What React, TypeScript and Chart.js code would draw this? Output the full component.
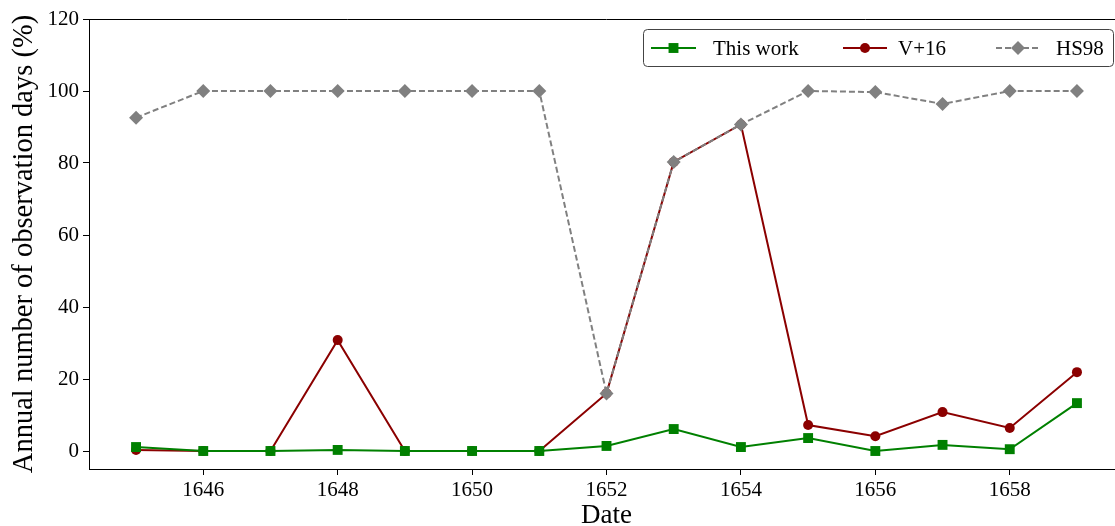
import React, { useEffect, useRef } from "react";
import { Chart, registerables } from "chart.js";

Chart.register(...registerables);

const years = [1645, 1646, 1647, 1648, 1649, 1650, 1651, 1652, 1653, 1654, 1655, 1656, 1657, 1658, 1659];
const thisWork = [1.1, 0, 0, 0.3, 0, 0, 0, 1.4, 6.1, 1.1, 3.6, 0, 1.7, 0.5, 13.3];
const v16 = [0.3, 0, 0, 30.8, 0, 0, 0, 16, 80.3, 90.7, 7.2, 4.1, 10.8, 6.4, 21.9];
const hs98 = [92.6, 100, 100, 100, 100, 100, 100, 16, 80.3, 90.7, 100, 99.7, 96.4, 100, 100];
const xTicks = [1646, 1648, 1650, 1652, 1654, 1656, 1658];
const yTicks = [0, 20, 40, 60, 80, 100, 120];
const seriesNames = ["This work", "V+16", "HS98"];

const FONT = "'Liberation Serif', 'DejaVu Serif', serif";
const W = 1131;
const H = 526;

const legendPlugin = {
  id: "customLegend",
  afterDraw(chart: any) {
    const ctx = chart.ctx;
    ctx.save();
    // top spine
    ctx.strokeStyle = "#000";
    ctx.lineWidth = 1;
    ctx.beginPath();
    ctx.moveTo(chart.chartArea.left, chart.chartArea.top + 0.5);
    ctx.lineTo(chart.chartArea.right, chart.chartArea.top + 0.5);
    ctx.stroke();
    // legend box
    const bx = 643.5, by = 29.5, bw = 470, bh = 37, r = 4;
    ctx.fillStyle = "rgba(255,255,255,0.8)";
    ctx.strokeStyle = "#444";
    ctx.lineWidth = 1;
    ctx.beginPath();
    ctx.moveTo(bx + r, by);
    ctx.lineTo(bx + bw - r, by);
    ctx.quadraticCurveTo(bx + bw, by, bx + bw, by + r);
    ctx.lineTo(bx + bw, by + bh - r);
    ctx.quadraticCurveTo(bx + bw, by + bh, bx + bw - r, by + bh);
    ctx.lineTo(bx + r, by + bh);
    ctx.quadraticCurveTo(bx, by + bh, bx, by + bh - r);
    ctx.lineTo(bx, by + r);
    ctx.quadraticCurveTo(bx, by, bx + r, by);
    ctx.closePath();
    ctx.fill();
    ctx.stroke();
    const cy = 48;
    const items = [
      { x0: 651, x1: 696, tx: 713, color: "#008000", style: "rect", radius: 7, dash: [] as number[] },
      { x0: 843, x1: 887, tx: 898, color: "#8b0000", style: "circle", radius: 5, dash: [] as number[] },
      { x0: 996, x1: 1040, tx: 1056, color: "#808080", style: "rectRot", radius: 7, dash: [6, 3] },
    ];
    items.forEach((it, i) => {
      ctx.strokeStyle = it.color;
      ctx.lineWidth = 2;
      ctx.setLineDash(it.dash);
      ctx.beginPath();
      ctx.moveTo(it.x0, cy);
      ctx.lineTo(it.x1, cy);
      ctx.stroke();
      ctx.setLineDash([]);
      ctx.fillStyle = it.color;
      const cx = (it.x0 + it.x1) / 2;
      ctx.beginPath();
      if (it.style === "rect") {
        const s = it.radius * Math.SQRT1_2;
        ctx.rect(cx - s, cy - s, 2 * s, 2 * s);
      } else if (it.style === "circle") {
        ctx.arc(cx, cy, it.radius, 0, Math.PI * 2);
      } else {
        ctx.moveTo(cx, cy - it.radius);
        ctx.lineTo(cx + it.radius, cy);
        ctx.lineTo(cx, cy + it.radius);
        ctx.lineTo(cx - it.radius, cy);
        ctx.closePath();
      }
      ctx.fill();
      ctx.fillStyle = "#000";
      ctx.font = `21px ${FONT}`;
      ctx.textBaseline = "middle";
      ctx.textAlign = "left";
      ctx.fillText(seriesNames[i], it.tx, cy + 1);
    });
    ctx.restore();
  },
};

export default function App() {
  const ref = useRef<HTMLCanvasElement | null>(null);

  useEffect(() => {
    document.body.style.margin = "0";
    document.body.style.overflow = "hidden";
    const mk = (vals: number[]) => years.map((y, i) => ({ x: y, y: vals[i] }));
    const chart = new Chart(ref.current as HTMLCanvasElement, {
      type: "line",
      data: {
        datasets: [
          {
            label: seriesNames[0],
            data: mk(thisWork),
            borderColor: "#008000",
            backgroundColor: "#008000",
            borderWidth: 2,
            pointStyle: "rect",
            pointRadius: 7,
            pointBorderWidth: 0,
            order: 1,
          },
          {
            label: seriesNames[1],
            data: mk(v16),
            borderColor: "#8b0000",
            backgroundColor: "#8b0000",
            borderWidth: 2,
            pointStyle: "circle",
            pointRadius: 5,
            pointBorderWidth: 0,
            order: 2,
          },
          {
            label: seriesNames[2],
            data: mk(hs98),
            borderColor: "#808080",
            backgroundColor: "#808080",
            borderWidth: 2,
            borderDash: [6, 3],
            pointStyle: "rectRot",
            pointRadius: 7,
            pointBorderWidth: 0,
            order: 0,
          },
        ],
      },
      options: {
        responsive: false,
        animation: false,
        devicePixelRatio: 1,
        layout: { padding: { top: 19, right: 1, left: 0, bottom: 0 } },
        plugins: { legend: { display: false }, tooltip: { enabled: false } },
        scales: {
          x: {
            type: "linear",
            min: 1644.3,
            max: 1659.7,
            afterBuildTicks: (s: any) => {
              s.ticks = xTicks.map((v) => ({ value: v }));
            },
            afterFit: (s: any) => {
              s.height = 57;
              s.paddingLeft = 0;
              s.paddingRight = 0;
            },
            grid: { drawOnChartArea: false, drawTicks: true, tickLength: 6, color: "#000", lineWidth: 1 },
            border: { color: "#000", width: 1 },
            ticks: {
              color: "#000",
              font: { family: FONT, size: 21 },
              padding: 3,
              maxRotation: 0,
              autoSkip: false,
              callback: (v: any) => String(v),
            },
            title: {
              display: true,
              text: "Date",
              color: "#000",
              font: { family: FONT, size: 27 },
              padding: { top: 0, bottom: -6 },
            },
          },
          y: {
            min: -5,
            max: 120,
            afterBuildTicks: (s: any) => {
              s.ticks = yTicks.map((v) => ({ value: v }));
            },
            afterFit: (s: any) => {
              s.width = 89;
              s.paddingTop = 0;
              s.paddingBottom = 0;
            },
            grid: { drawOnChartArea: false, drawTicks: true, tickLength: 6, color: "#000", lineWidth: 1 },
            border: { color: "#000", width: 1 },
            ticks: {
              color: "#000",
              font: { family: FONT, size: 21 },
              padding: 4,
              callback: (v: any) => String(v),
            },
            title: {
              display: true,
              text: "Annual number of observation days (%)",
              color: "#000",
              font: { family: FONT, size: 28.5 },
              padding: { top: 7, bottom: 0 },
            },
          },
        },
      },
      plugins: [legendPlugin],
    } as any);
    return () => chart.destroy();
  }, []);

  return (
    <div style={{ width: 1115, height: H, overflow: "hidden", background: "#fff" }}>
      <canvas ref={ref} width={W} height={H} style={{ display: "block", width: W, height: H }} />
    </div>
  );
}
